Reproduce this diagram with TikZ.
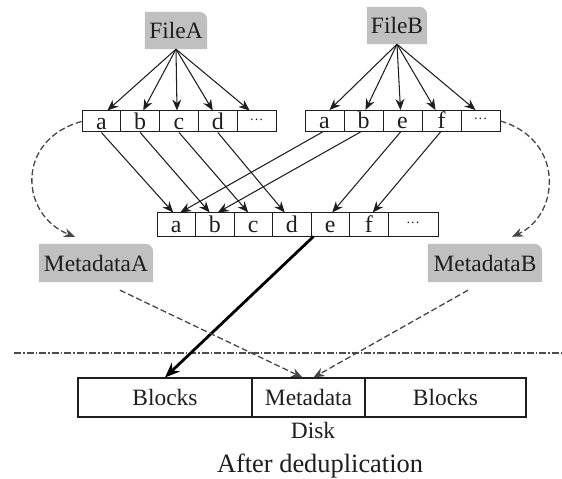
\documentclass[tikz,border=0pt]{standalone}
\usepackage{fontspec}
\setmainfont{Liberation Serif}
\usetikzlibrary{arrows.meta,backgrounds}
\definecolor{labgray}{RGB}{192,192,192}
\definecolor{ink}{RGB}{30,30,30}
\newcommand\labfill[1]{\fill[labgray] (#1.south west) -- (#1.north west) -- ([xshift=-8bp]#1.north east) arc[start angle=90,end angle=0,radius=8bp] -- (#1.south east) -- cycle;}
\begin{document}
\begin{tikzpicture}[x=1bp,y=-1bp,
  every node/.style={text=ink},
  cellA/.style={draw=ink, line width=1bp, minimum width=38.8bp, minimum height=21bp, inner sep=0pt, text height=15.5bp, text depth=0pt, font=\fontsize{24}{24}\selectfont},
  cellB/.style={cellA, minimum width=39bp},
  cellM/.style={cellA, minimum width=38.5bp, minimum height=23bp, text height=16.5bp},
  dotcell/.style={text height=6bp, font=\fontsize{14}{14}\selectfont},
  lab/.style={minimum height=37bp, inner sep=0pt, font=\fontsize{23.5}{23.5}\selectfont},
  diskcell/.style={draw=ink, line width=1.1bp, minimum height=39bp, inner sep=0pt, font=\fontsize{23.5}{23.5}\selectfont},
  arr/.style={draw=ink, line width=1.05bp, -{Stealth[length=11bp,width=9bp]}},
  dasharr/.style={draw=black!72, line width=1.3bp, dash pattern=on 6bp off 3bp, -{Stealth[length=11bp,width=9bp]}},
  bigarr/.style={draw=black, line width=2.8bp, -{Stealth[length=15bp,width=12bp]}},
  dashdot/.style={draw=black!70, line width=1.4bp, dash pattern=on 7bp off 2bp on 1.5bp off 2bp}
]
\useasboundingbox (0,0) rectangle (562,479);

% labels
\node[lab, minimum width=62bp] (FA) at (176,30.5) {FileA};
\node[lab, minimum width=60bp] (FB) at (397,25.5) {FileB};
\node[lab, minimum width=114bp, minimum height=38bp] (MA) at (96,263) {MetadataA};
\node[lab, minimum width=114bp, minimum height=38bp] (MB) at (485,263) {MetadataB};
\begin{scope}[on background layer]
\labfill{FA}\labfill{FB}\labfill{MA}\labfill{MB}
\end{scope}

% array A
\node[cellA] (Aa) at (101.4,121.5) {a};
\node[cellA] (Ab) at (140.2,121.5) {b};
\node[cellA] (Ac) at (179,121.5) {c};
\node[cellA] (Ad) at (217.8,121.5) {d};
\node[cellA, dotcell] (Ax) at (256.6,121.5) {···};
% array B
\node[cellB] (Ba) at (324.5,121) {a};
\node[cellB] (Bb) at (363.5,121) {b};
\node[cellB] (Be) at (402.5,121) {e};
\node[cellB] (Bf) at (441.5,121) {f};
\node[cellB, dotcell] (Bx) at (480.5,121) {···};
% middle array
\node[cellM] (Ma) at (176.25,224.5) {a};
\node[cellM] (Mb) at (214.75,224.5) {b};
\node[cellM] (Mc) at (253.25,224.5) {c};
\node[cellM] (Md) at (291.75,224.5) {d};
\node[cellM] (Me) at (330.25,224.5) {e};
\node[cellM] (Mf) at (368.75,224.5) {f};
\node[cellM, dotcell, minimum width=50bp] (Mx) at (413,224.5) {···};

% disk
\node[diskcell, minimum width=174bp] (D1) at (165,397.5) {Blocks};
\node[diskcell, minimum width=113bp] (D2) at (308.5,397.5) {Metadata};
\node[diskcell, minimum width=161bp] (D3) at (445.5,397.5) {Blocks};
\node[anchor=base, font=\fontsize{23.5}{23.5}\selectfont] (disk) at (313,438) {Disk};
\node[anchor=base, font=\fontsize{26.5}{26.5}\selectfont] (cap) at (320,472) {After deduplication};

% file arrows
\draw[arr] (FA.south) -- ([xshift=6bp]Aa.north);
\draw[arr] (FA.south) -- ([xshift=3bp]Ab.north);
\draw[arr] (FA.south) -- ([xshift=-2bp]Ac.north);
\draw[arr] (FA.south) -- ([xshift=-5bp]Ad.north);
\draw[arr] (FA.south) -- ([xshift=-7bp]Ax.north);
\draw[arr] (FB.south) -- ([xshift=5bp]Ba.north);
\draw[arr] (FB.south) -- ([xshift=2bp]Bb.north);
\draw[arr] (FB.south) -- ([xshift=-2bp]Be.north);
\draw[arr] (FB.south) -- ([xshift=-6bp]Bf.north);
\draw[arr] (FB.south) -- ([xshift=-5bp]Bx.north);

% array to middle
\draw[arr] (Aa.south) -- ([xshift=-3bp]Ma.north);
\draw[arr] (Ab.south) -- ([xshift=-5bp]Mb.north);
\draw[arr] (Ac.south) -- ([xshift=-5bp]Mc.north);
\draw[arr] (Ad.south) -- ([xshift=-7bp]Md.north);
\draw[arr] ([xshift=-2bp]Ba.south) -- ([xshift=4bp]Ma.north);
\draw[arr] ([xshift=-3bp]Bb.south) -- ([xshift=3bp]Mb.north);
\draw[arr] ([xshift=-2bp]Be.south) -- ([xshift=2bp]Me.north);
\draw[arr] ([xshift=-1bp]Bf.south) -- ([xshift=4bp]Mf.north);

% curved dashed
\draw[dasharr] (Aa.west) .. controls (15,140) and (20,215) .. ([xshift=-21bp,yshift=7bp]MA.north);
\draw[dasharr] (Bx.east) .. controls (565,140) and (560,215) .. ([xshift=27bp,yshift=7bp]MB.north);

% separator
\coordinate (L1) at (14,353);
\coordinate (L2) at (562,353);
\draw[dashdot] (L1) -- (L2);

% to disk
\draw[bigarr] ([xshift=3bp]Me.south west) -- (D1.north);
\draw[dasharr] ([xshift=24bp,yshift=-8bp]MA.south) -- ([xshift=-6bp]D2.north);
\draw[dasharr] ([xshift=-17bp,yshift=-8bp]MB.south) -- ([xshift=5bp]D2.north);
\end{tikzpicture}
\end{document}
